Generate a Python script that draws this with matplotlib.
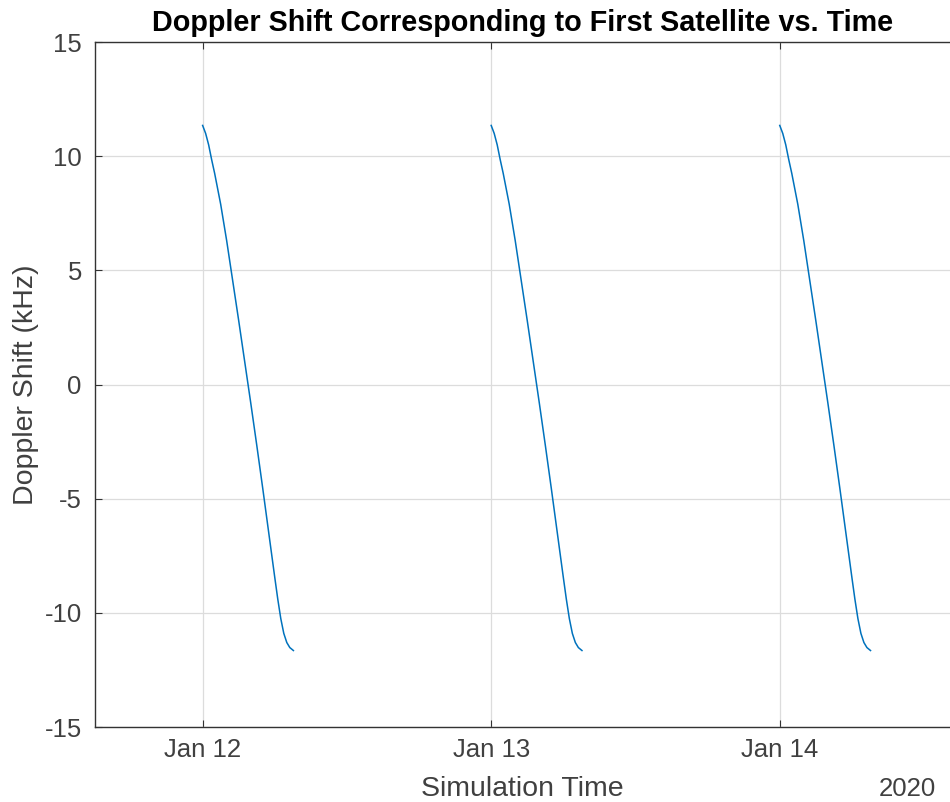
import datetime as dt
import numpy as np
import matplotlib
matplotlib.use("Agg")
import matplotlib.pyplot as plt
import matplotlib.dates as mdates

plt.rcParams['font.family'] = ['Liberation Sans', 'DejaVu Sans']
plt.rcParams['axes.unicode_minus'] = False

# one satellite pass, hours after midnight vs doppler shift (kHz)
pass_hours = [0.0, 0.25, 0.5, 0.75, 1.0, 1.5, 2.0, 2.5, 3.0, 3.5, 4.0,
              4.5, 5.0, 5.5, 6.0, 6.25, 6.5, 6.75, 7.0, 7.25, 7.55]
pass_shift = [11.35, 11.0, 10.5, 9.85, 9.25, 7.9, 6.3, 4.55, 2.8, 1.0, -0.8,
              -2.65, -4.55, -6.5, -8.45, -9.4, -10.25, -10.9, -11.3, -11.52, -11.65]
pass_days = [dt.datetime(2020, 1, 12), dt.datetime(2020, 1, 13), dt.datetime(2020, 1, 14)]

tick_days = [dt.datetime(2020, 1, 12), dt.datetime(2020, 1, 13), dt.datetime(2020, 1, 14)]
y_ticks = [-15, -10, -5, 0, 5, 10, 15]

line_color = '#0072BD'
text_color = '#404040'

fig = plt.figure(figsize=(9.5, 8.02), dpi=100)
ax = fig.add_axes([0.1, 0.0935, 0.9, 0.854])

for day in pass_days:
    t = [day + dt.timedelta(hours=h) for h in pass_hours]
    ax.plot(t, pass_shift, color=line_color, lw=1.1)

x0 = dt.datetime(2020, 1, 12) - dt.timedelta(days=0.373)
x1 = dt.datetime(2020, 1, 14) + dt.timedelta(days=0.59)
ax.set_xlim(x0, x1)
ax.set_ylim(-15, 15)
ax.set_xticks(tick_days)
ax.xaxis.set_major_formatter(mdates.DateFormatter('%b %d'))
ax.set_yticks(y_ticks)

ax.grid(True, color='#DCDCDC', lw=0.9)
ax.set_axisbelow(True)
ax.spines['right'].set_visible(False)
for s in ['left', 'top', 'bottom']:
    ax.spines[s].set_color('#333333')
    ax.spines[s].set_linewidth(1.0)
ax.tick_params(direction='in', length=5, width=0.8, colors='#333333',
               labelcolor=text_color, labelsize=18.5, top=True, right=False)
ax.tick_params(axis='x', pad=8)
ax.tick_params(axis='y', pad=9.5)

ax.set_title('Doppler Shift Corresponding to First Satellite vs. Time',
             fontsize=20.7, fontweight='bold', color='black', pad=8)
ax.set_xlabel('Simulation Time', fontsize=20.5, color=text_color, labelpad=10)
ax.set_ylabel('Doppler Shift (kHz)', fontsize=20.5, color=text_color, labelpad=4)
fig.text(0.985, 0.008, '2020', fontsize=18.5, color=text_color, ha='right', va='baseline')

fig.savefig('out.png', dpi=100, facecolor='white')
